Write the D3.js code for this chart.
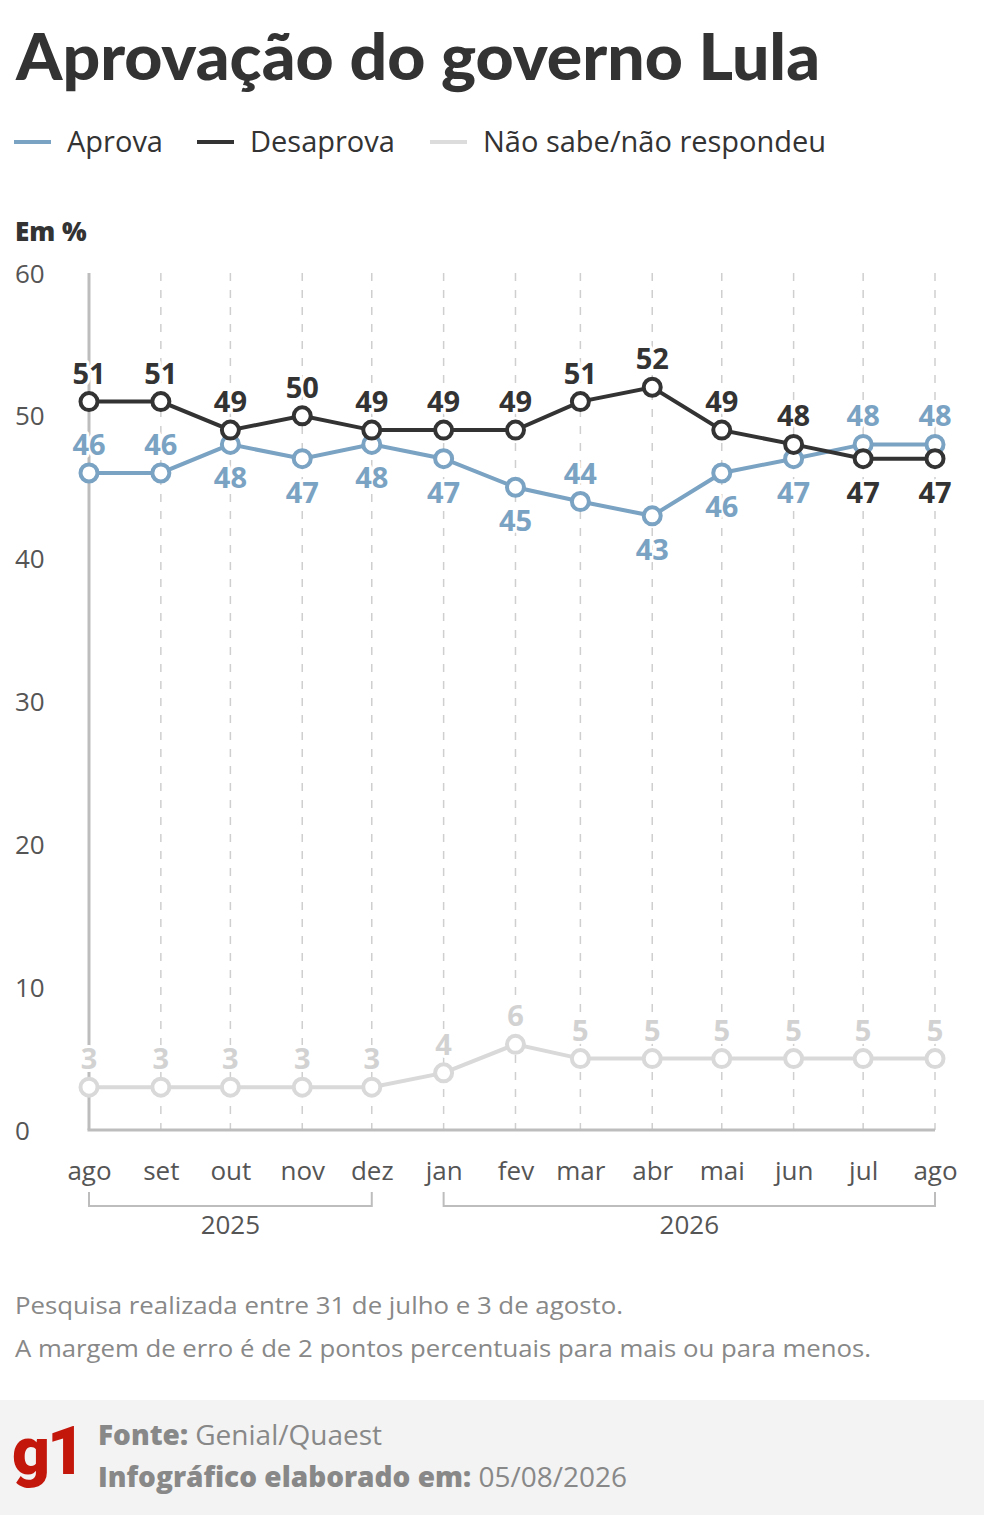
<!DOCTYPE html>
<html>
<head>
<meta charset="utf-8">
<script src="https://cdn.jsdelivr.net/npm/d3@7"></script>
<style>
  body { margin: 0; background: #fff; }
  svg { display: block; font-family: "Open Sans", sans-serif; }
</style>
</head>
<body>
<svg id="chart"></svg>
<script>
// dados
const dates = ["2025-08-01","2025-09-01","2025-10-01","2025-11-01","2025-12-01","2026-01-01",
               "2026-02-01","2026-03-01","2026-04-01","2026-05-01","2026-06-01","2026-07-01","2026-08-01"];
const months = ["ago","set","out","nov","dez","jan","fev","mar","abr","mai","jun","jul","ago"];
const aprova = [46,46,48,47,48,47,45,44,43,46,47,48,48];
const desaprova = [51,51,49,50,49,49,49,51,52,49,48,47,47];
const naoSabe = [3,3,3,3,3,4,6,5,5,5,5,5,5];
const yTicks = [0,10,20,30,40,50,60];
const years = [
  { label: "2025", from: "2025-08-01", to: "2025-12-01" },
  { label: "2026", from: "2026-01-01", to: "2026-08-01" }
];
// posição dos rótulos: acima (true) ou abaixo (false)
const aprovaAbove = [true,true,false,false,false,false,false,true,false,false,false,true,true];
const desaprovaAbove = [true,true,true,true,true,true,true,true,true,true,true,false,false];

const width = 984, height = 1515;
const parse = d3.timeParse("%Y-%m-%d");
const dateObjs = dates.map(parse);

const svg = d3.select("#chart").attr("width", width).attr("height", height);

const xScale = d3.scaleTime()
  .domain([parse("2025-08-01"), parse("2026-08-01")])
  .range([89, 935]);
const yScale = d3.scaleLinear().domain([0, 60]).range([1130, 273]);

// título
svg.append("text")
  .attr("x", 16).attr("y", 80)
  .attr("font-family", "Lato, sans-serif")
  .attr("font-size", 64).attr("font-weight", 900)
  .attr("fill", "#333")
  .attr("textLength", 804).attr("lengthAdjust", "spacingAndGlyphs")
  .text("Aprovação do governo Lula");

// legenda
const legend = [
  { name: "Aprova", color: "#7aa2c2", x: 14 },
  { name: "Desaprova", color: "#333333", x: 197 },
  { name: "Não sabe/não respondeu", color: "#dcdcdc", x: 430 }
];
legend.forEach(l => {
  svg.append("line")
    .attr("x1", l.x).attr("x2", l.x + 37)
    .attr("y1", 142).attr("y2", 142)
    .attr("stroke", l.color).attr("stroke-width", 4);
  svg.append("text")
    .attr("x", l.x + 53).attr("y", 152)
    .attr("font-size", 29).attr("fill", "#333")
    .text(l.name);
});

svg.append("text")
  .attr("x", 15).attr("y", 241)
  .attr("font-size", 26).attr("font-weight", 800).attr("fill", "#333")
  .text("Em %");

// eixo y (somente rótulos)
const yAxis = svg.append("g")
  .call(d3.axisLeft(yScale).tickValues(yTicks).tickSize(0).tickPadding(0));
yAxis.select(".domain").remove();
yAxis.selectAll("text")
  .attr("x", 15).attr("text-anchor", "start").attr("dy", "0.35em")
  .attr("font-size", 26).attr("fill", "#555")
  .attr("font-family", "Open Sans, sans-serif");

// linhas de grade verticais
svg.append("g").selectAll("line")
  .data(dateObjs.slice(1))
  .join("line")
  .attr("x1", d => xScale(d)).attr("x2", d => xScale(d))
  .attr("y1", yScale(60)).attr("y2", yScale(0))
  .attr("stroke", "#cfcfcf").attr("stroke-width", 1.5)
  .attr("stroke-dasharray", "8,9");

// eixos sólidos
svg.append("line")
  .attr("x1", xScale(dateObjs[0])).attr("x2", xScale(dateObjs[0]))
  .attr("y1", yScale(60)).attr("y2", yScale(0))
  .attr("stroke", "#bdbdbd").attr("stroke-width", 3);
svg.append("line")
  .attr("x1", xScale(dateObjs[0]) - 1.5).attr("x2", xScale(dateObjs[12]))
  .attr("y1", yScale(0)).attr("y2", yScale(0))
  .attr("stroke", "#bdbdbd").attr("stroke-width", 3);

// eixo x (meses)
const xAxis = svg.append("g")
  .attr("transform", `translate(0,${yScale(0)})`)
  .call(d3.axisBottom(xScale).tickValues(dateObjs).tickSize(0).tickPadding(32)
    .tickFormat((d, i) => months[i]));
xAxis.select(".domain").remove();
xAxis.selectAll("text")
  .attr("font-size", 26).attr("fill", "#555")
  .attr("font-family", "Open Sans, sans-serif");

// chaves dos anos
years.forEach(y => {
  const x1 = xScale(parse(y.from)), x2 = xScale(parse(y.to));
  svg.append("path")
    .attr("d", `M${x1},1192 V1206 H${x2} V1192`)
    .attr("fill", "none").attr("stroke", "#bdbdbd").attr("stroke-width", 2);
  svg.append("text")
    .attr("x", (x1 + x2) / 2).attr("y", 1234)
    .attr("text-anchor", "middle")
    .attr("font-size", 26).attr("fill", "#555")
    .text(y.label);
});

// séries
const series = [
  { values: naoSabe, color: "#d9d9d9", labelColor: "#d2d2d2", above: naoSabe.map(() => true) },
  { values: aprova, color: "#7aa2c2", labelColor: "#7aa2c2", above: aprovaAbove },
  { values: desaprova, color: "#333333", labelColor: "#333333", above: desaprovaAbove }
];

const line = d3.line()
  .x((d, i) => xScale(dateObjs[i]))
  .y(d => yScale(d));

series.forEach(s => {
  const g = svg.append("g");
  g.append("path")
    .datum(s.values)
    .attr("d", line)
    .attr("fill", "none")
    .attr("stroke", s.color).attr("stroke-width", 4);
  g.selectAll("circle")
    .data(s.values)
    .join("circle")
    .attr("cx", (d, i) => xScale(dateObjs[i]))
    .attr("cy", d => yScale(d))
    .attr("r", 8.5)
    .attr("fill", "#fff")
    .attr("stroke", s.color).attr("stroke-width", 4);
  g.selectAll("text")
    .data(s.values)
    .join("text")
    .attr("x", (d, i) => xScale(dateObjs[i]))
    .attr("y", (d, i) => yScale(d) + (s.above[i] ? -18 : 44))
    .attr("text-anchor", "middle")
    .attr("font-size", 29).attr("font-weight", 700)
    .attr("fill", s.labelColor)
    .attr("stroke", "#fff").attr("stroke-width", 6)
    .attr("stroke-linejoin", "round")
    .attr("paint-order", "stroke")
    .text(d => d);
});

// notas
svg.append("text")
  .attr("x", 15).attr("y", 1314)
  .attr("font-size", 24).attr("fill", "#888")
  .attr("textLength", 608).attr("lengthAdjust", "spacingAndGlyphs")
  .text("Pesquisa realizada entre 31 de julho e 3 de agosto.");
svg.append("text")
  .attr("x", 15).attr("y", 1357)
  .attr("font-size", 24).attr("fill", "#888")
  .attr("textLength", 856).attr("lengthAdjust", "spacingAndGlyphs")
  .text("A margem de erro é de 2 pontos percentuais para mais ou para menos.");

// rodapé
svg.append("rect")
  .attr("x", 0).attr("y", 1400).attr("width", width).attr("height", 115)
  .attr("fill", "#f3f3f3");
svg.append("text")
  .attr("x", 12).attr("y", 1474)
  .attr("font-family", "Roboto, sans-serif")
  .attr("font-size", 66).attr("font-weight", 900).attr("fill", "#c4170c")
  .attr("letter-spacing", -3)
  .text("g1");

const f1 = svg.append("text")
  .attr("x", 98).attr("y", 1445)
  .attr("font-size", 28).attr("fill", "#888");
f1.append("tspan").attr("font-weight", 800).text("Fonte: ");
f1.append("tspan").text("Genial/Quaest");

const f2 = svg.append("text")
  .attr("x", 98).attr("y", 1487)
  .attr("font-size", 28).attr("fill", "#888");
f2.append("tspan").attr("font-weight", 800).text("Infográfico elaborado em: ");
f2.append("tspan").text("05/08/2026");
</script>
</body>
</html>
